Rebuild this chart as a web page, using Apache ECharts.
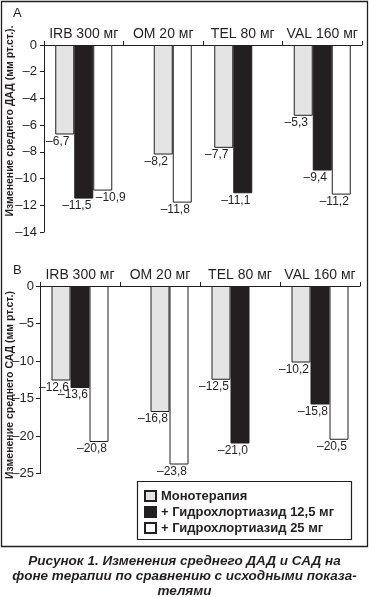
<!DOCTYPE html>
<html><head><meta charset="utf-8">
<script src="https://cdn.jsdelivr.net/npm/echarts@6/dist/echarts.min.js"></script>
<style>html,body{margin:0;padding:0;background:#fff}#c{width:369px;height:597px}</style>
</head><body><div id="c"></div>
<script>
const categories = ['IRB 300 мг', 'OM 20 мг', 'TEL 80 мг', 'VAL 160 мг'];
const seriesNames = ['Монотерапия', '+ Гидрохлортиазид 12,5 мг', '+ Гидрохлортиазид 25 мг'];
// Panel A: ДАД
const dadMono  = [-6.7, -8.2, -7.7, -5.3];
const dadHct12 = [-11.5, null, -11.1, -9.4];
const dadHct25 = [-10.9, -11.8, null, -11.2];
// Panel B: САД
const sadMono  = [-12.6, -16.8, -12.5, -10.2];
const sadHct12 = [-13.6, null, -21.0, -15.8];
const sadHct25 = [-20.8, -23.8, null, -20.5];
const dadAxis = {min: -14, max: 0, interval: 2};
const sadAxis = {min: -25, max: 0, interval: 5};
const panelNames = ['Изменение среднего ДАД (мм рт.ст.).', 'Изменение среднего САД (мм рт.ст.)'];

const INK = '#231f20';
const FONT = "'Liberation Sans', Arial, sans-serif";
const colors = ['#e4e4e4', INK, '#ffffff'];

function fmt(v){ return '\u2013' + Math.abs(v).toFixed(1).replace('.', ','); }

function styleFor(k){ return {color: colors[k], borderColor: INK, borderWidth: 1}; }

function buildSeries(gi, mono, h12, h25, special){
  const slot0 = [], slot1 = [], slot2 = [];
  for (let i = 0; i < categories.length; i++){
    if (h12[i] == null && mono[i] != null){
      slot0.push(null);
      slot1.push({value: mono[i], itemStyle: styleFor(0)});
    } else {
      slot0.push(mono[i]);
      slot1.push(h12[i]);
    }
    let d = h25[i];
    if (special && special[i] != null && d != null) d = {value: d, label: {offset: special[i]}};
    slot2.push(d);
  }
  return [slot0, slot1, slot2].map((data, k) => ({
    type: 'bar', name: seriesNames[k], xAxisIndex: gi, yAxisIndex: gi,
    data, barWidth: 19, barGap: '0%', itemStyle: styleFor(k),
    label: {show: true, position: 'bottom', distance: 1, offset: [-7, 0],
      fontFamily: FONT, fontSize: 12, color: INK,
      formatter: p => p.value == null ? '' : fmt(p.value)},
    emphasis: {disabled: true}, animation: false
  }));
}

const grids = [
  {left: 44, top: 45, width: 318, height: 187},
  {left: 40, top: 286, width: 320, height: 187.5}
];

function xAxis(gi){
  return {type: 'category', gridIndex: gi, data: categories, position: 'top',
    axisLine: {lineStyle: {color: INK, width: 1}},
    axisTick: {show: true, length: 4, lineStyle: {color: INK}},
    axisLabel: {interval: 0, fontFamily: FONT, fontSize: 14, color: INK, margin: 4}};
}
function yAxis(gi, ax, margin){
  return {type: 'value', gridIndex: gi, min: ax.min, max: ax.max, interval: ax.interval,
    splitLine: {show: false},
    axisLine: {show: true, lineStyle: {color: INK, width: 1}},
    axisTick: {show: true, length: 4, lineStyle: {color: INK}},
    axisLabel: {fontFamily: FONT, fontSize: 13, color: INK, margin,
      formatter: v => v < 0 ? '\u2013' + Math.abs(v) : String(v)}};
}

const chart = echarts.init(document.getElementById('c'), null, {renderer: 'canvas'});
chart.setOption({
  backgroundColor: '#fff',
  animation: false,
  grid: grids,
  xAxis: [xAxis(0), xAxis(1)],
  yAxis: [yAxis(0, dadAxis, 7), yAxis(1, sadAxis, 6)],
  legend: {
    data: seriesNames, orient: 'vertical', left: 144, top: 488, padding: 0,
    itemWidth: 11, itemHeight: 10, itemGap: 0, selectedMode: false, icon: 'rect',
    textStyle: {fontFamily: FONT, fontSize: 13, fontWeight: 'bold', color: INK, lineHeight: 16}
  },
  series: [
    ...buildSeries(0, dadMono, dadHct12, dadHct25, [[8, 0], null, null, null]),
    ...buildSeries(1, sadMono, sadHct12, sadHct25, null)
  ],
  graphic: [
    {type: 'rect', z: -10, shape: {x: 1.5, y: 1.5, width: 366, height: 545}, style: {fill: '#fff', stroke: INK, lineWidth: 1.3}},
    {type: 'rect', z: 1, shape: {x: 137.5, y: 481.5, width: 214, height: 58}, style: {fill: '#fff', stroke: INK, lineWidth: 1.2}},
    {type: 'text', x: 13, y: 13, style: {text: 'A', font: '13px ' + FONT, fill: INK, textAlign: 'left', textVerticalAlign: 'middle'}},
    {type: 'text', x: 13, y: 270, style: {text: 'B', font: '13px ' + FONT, fill: INK, textAlign: 'left', textVerticalAlign: 'middle'}},
    {type: 'text', x: 10, y: 121, rotation: Math.PI / 2, style: {text: panelNames[0], font: 'bold 10.5px ' + FONT, fill: INK, textAlign: 'center', textVerticalAlign: 'middle'}},
    {type: 'text', x: 10, y: 385, rotation: Math.PI / 2, style: {text: panelNames[1], font: 'bold 10.5px ' + FONT, fill: INK, textAlign: 'center', textVerticalAlign: 'middle'}},
    {type: 'text', x: 184.5, y: 554, style: {text: 'Рисунок 1. Изменения среднего ДАД и САД на\nфоне терапии по сравнению с исходными показа-\nтелями', font: 'italic bold 13.5px ' + FONT, fill: INK, textAlign: 'center', textVerticalAlign: 'top', lineHeight: 15}}
  ]
});
</script></body></html>
